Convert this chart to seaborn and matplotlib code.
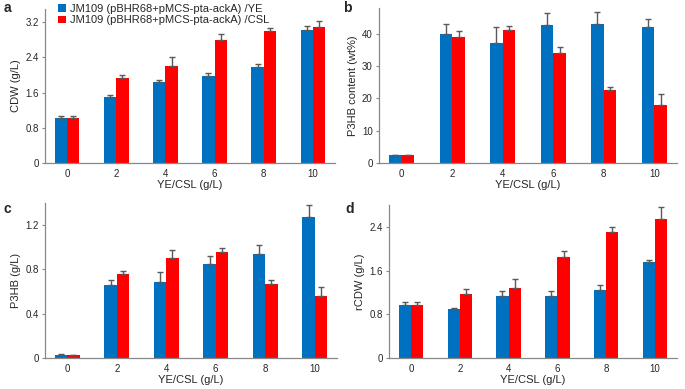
import numpy as np
import pandas as pd
import matplotlib
matplotlib.use('Agg')
import matplotlib.pyplot as plt
import seaborn as sns

# values
conc = ['0', '2', '4', '6', '8', '10']
labels = ['JM109 (pBHR68+pMCS-pta-ackA) /YE', 'JM109 (pBHR68+pMCS-pta-ackA) /CSL']

cdw_ye = [1.02, 1.49, 1.84, 1.98, 2.18, 3.02]
cdw_ye_err = [0.04, 0.06, 0.04, 0.07, 0.06, 0.10]
cdw_csl = [1.02, 1.94, 2.20, 2.79, 2.99, 3.09]
cdw_csl_err = [0.04, 0.05, 0.20, 0.15, 0.07, 0.14]

p3hb_ye = [2.4, 39.8, 37.1, 42.7, 43.1, 42.0]
p3hb_ye_err = [0.2, 3.1, 4.9, 3.6, 3.7, 2.5]
p3hb_csl = [2.4, 39.0, 41.1, 34.2, 22.5, 18.1]
p3hb_csl_err = [0.2, 1.8, 1.3, 1.6, 1.0, 3.3]

p3hbg_ye = [0.027, 0.66, 0.69, 0.85, 0.94, 1.27]
p3hbg_ye_err = [0.005, 0.045, 0.085, 0.07, 0.085, 0.11]
p3hbg_csl = [0.024, 0.757, 0.906, 0.957, 0.672, 0.56]
p3hbg_csl_err = [0.005, 0.025, 0.065, 0.04, 0.03, 0.08]

rcdw_ye = [0.965, 0.90, 1.13, 1.14, 1.25, 1.75]
rcdw_ye_err = [0.065, 0.02, 0.10, 0.09, 0.09, 0.05]
rcdw_csl = [0.965, 1.18, 1.29, 1.84, 2.31, 2.54]
rcdw_csl_err = [0.065, 0.08, 0.15, 0.12, 0.08, 0.22]

colors = ['#0070C0', '#FF0000']

sns.set_theme(style='white')
plt.rcParams['font.family'] = ['Liberation Sans', 'DejaVu Sans']

fig = plt.figure(figsize=(6.85, 3.89), dpi=100)

def px(l, t, r, b):
    # pixel box -> figure fraction
    return [l/685, (389-b)/389, (r-l)/685, (b-t)/389]

panels = [
    ('a', px(45, 9, 335, 163), cdw_ye, cdw_ye_err, cdw_csl, cdw_csl_err, 'CDW (g/L)', 3.5, [0, 0.8, 1.6, 2.4, 3.2], ['0', '0.8', '1.6', '2.4', '3.2'], (4, 1)),
    ('b', px(379, 8, 677, 163), p3hb_ye, p3hb_ye_err, p3hb_csl, p3hb_csl_err, 'P3HB content (wt%)', 48, [0, 10, 20, 30, 40], ['0', '10', '20', '30', '40'], (343, 1)),
    ('c', px(45, 203, 337, 358), p3hbg_ye, p3hbg_ye_err, p3hbg_csl, p3hbg_csl_err, 'P3HB (g/L)', 1.4, [0, 0.4, 0.8, 1.2], ['0', '0.4', '0.8', '1.2'], (4, 202)),
    ('d', px(389, 205, 677, 358), rcdw_ye, rcdw_ye_err, rcdw_csl, rcdw_csl_err, 'rCDW (g/L)', 2.8, [0, 0.8, 1.6, 2.4], ['0', '0.8', '1.6', '2.4'], (345, 202)),
]

for letter, box, ye, ye_err, csl, csl_err, ylab, ymax, yt, ytl, lpos in panels:
    ax = fig.add_axes(box)
    df = pd.DataFrame({
        'conc': conc * 2,
        'val': ye + csl,
        'grp': [labels[0]] * 6 + [labels[1]] * 6,
    })
    sns.barplot(data=df, x='conc', y='val', hue='grp', order=conc, hue_order=labels,
                palette=colors, width=0.5, errorbar=None, saturation=1,
                linewidth=0, ax=ax, legend=(letter == 'a'))
    # one-sided error bars at the bar centres
    for cont, v, e in zip(ax.containers, [ye, csl], [ye_err, csl_err]):
        xs = [p.get_x() + p.get_width()/2 for p in cont.patches]
        ax.errorbar(xs, v, yerr=[np.zeros(len(e)), e], fmt='none', ecolor='#5a5a5a',
                    elinewidth=1.0, capsize=2.2, capthick=1.0)
    ax.set_ylim(0, ymax)
    ax.set_xlim(-0.45, 5.45)
    ax.set_yticks(yt)
    ax.set_yticklabels(ytl)
    ax.set_xlabel('YE/CSL (g/L)', fontsize=8, labelpad=1)
    ax.set_ylabel(ylab, fontsize=8, labelpad=3)
    ax.tick_params(axis='y', labelsize=7, length=2.5, width=0.8, color='#888888', left=True, pad=2)
    ax.tick_params(axis='x', labelsize=7, length=0, pad=4)
    sns.despine(ax=ax)
    for s in ['left', 'bottom']:
        ax.spines[s].set_color('#888888')
        ax.spines[s].set_linewidth(0.9)
    fig.text(lpos[0]/685, 1 - lpos[1]/389, letter, fontsize=10, fontweight='bold', va='top', ha='left')
    if letter == 'a':
        ax.legend(loc='upper left', bbox_to_anchor=(0.03, 1.06), frameon=False, fontsize=8,
                  handlelength=0.7, handleheight=0.7, handletextpad=0.4, labelspacing=0.1,
                  borderaxespad=0)

fig.savefig('out.png', dpi=100)
